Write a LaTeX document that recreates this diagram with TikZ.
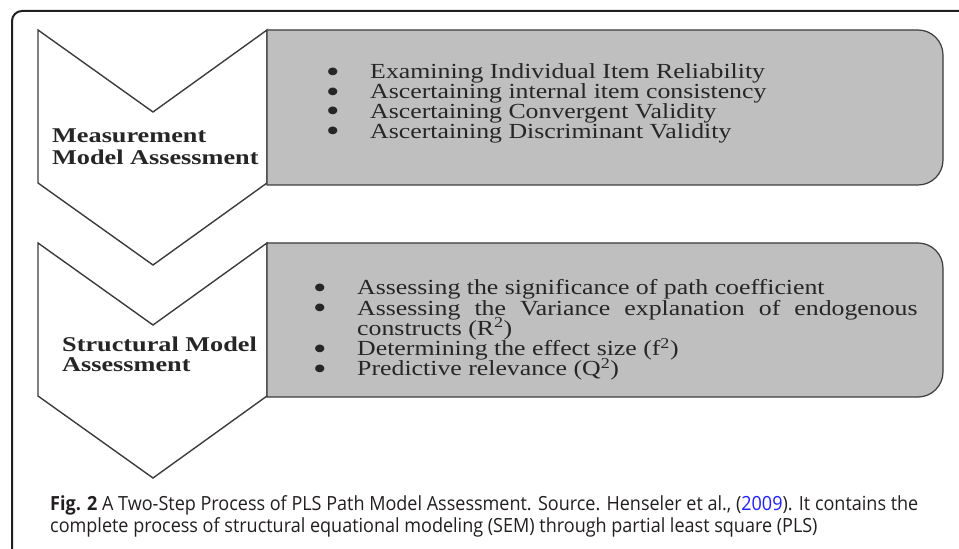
\documentclass[tikz,border=0pt]{standalone}
\usepackage{fontspec}
\setmainfont{Liberation Serif}
\newfontfamily\capfont{Open Sans}
\usepackage{graphicx}
\definecolor{boxgray}{HTML}{BFBFBF}
\definecolor{edgegray}{HTML}{3C3C3C}
\definecolor{captxt}{HTML}{231F20}
\definecolor{linkblue}{HTML}{1F1FFF}
\newcommand\bul{\makebox[36.7pt][l]{\raisebox{-3.5pt}{\fontsize{32}{32}\selectfont\textbullet}}}
\newcommand\hangsp{\hspace*{36.7pt}}
\begin{document}
\begin{tikzpicture}[x=1pt,y=1pt,
  chev/.style={draw=edgegray, line width=1.4pt, fill=white, line join=miter},
  gbox/.style={draw=edgegray, line width=1.2pt, fill=boxgray},
  framestyle/.style={draw=black!88, line width=2pt},
  txt/.style={inner sep=0pt, anchor=base west, text=black!85},
  captext/.style={inner sep=0pt, anchor=base west, text=captxt, font=\capfont\fontsize{19.5}{22}\selectfont}]
\useasboundingbox (0,0) rectangle (959,549);
\fill[white] (0,0) rectangle (959,549);
% frame
\draw[framestyle, rounded corners=10pt] (12,0) -- (12,538) -- (959,538);
% chevrons
\draw[chev] (38,519) -- (153,437) -- (267,519) -- (267,366) -- (153,284) -- (38,366) -- cycle;
\draw[chev] (38,306) -- (153,224) -- (267,306) -- (267,153) -- (153,71) -- (38,153) -- cycle;
% boxes
\draw[gbox] (267,519) -- (918,519) arc[start angle=90,end angle=0,radius=25] -- (943,389) arc[start angle=0,end angle=-90,radius=25] -- (267,364) -- cycle;
\draw[gbox] (267,306) -- (918,306) arc[start angle=90,end angle=0,radius=25] -- (943,177) arc[start angle=0,end angle=-90,radius=25] -- (267,152) -- cycle;
% chevron labels
\node[txt] (c1) at (52,406) {\scalebox{1.25}[1]{\parbox[t]{300pt}{\bfseries\fontsize{21}{22}\selectfont\lineskiplimit=-100pt Measurement\\Model Assessment}}};
\node[txt] (c2) at (62,197) {\scalebox{1.25}[1]{\parbox[t]{300pt}{\bfseries\fontsize{21}{20}\selectfont\lineskiplimit=-100pt Structural Model\\Assessment}}};
% box texts
\node[txt] (m1) at (326,470) {\scalebox{1.2}[1]{\parbox[t]{560pt}{\fontsize{21.5}{19.7}\selectfont\lineskiplimit=-100pt
\bul Examining Individual Item Reliability\\
\bul Ascertaining internal item consistency\\
\bul Ascertaining Convergent Validity\\
\bul Ascertaining Discriminant Validity}}};
\node[txt] (m2) at (313,254) {\scalebox{1.2}[1]{\parbox[t]{560pt}{\fontsize{21.5}{20.2}\selectfont\lineskiplimit=-100pt
\bul Assessing the significance of path coefficient\\
\bul\makebox[467pt][s]{Assessing the Variance explanation of endogenous}\\
\hangsp constructs (R\textsuperscript{2})\\
\bul Determining the effect size (f\textsuperscript{2})\\
\bul Predictive relevance (Q\textsuperscript{2})}}};
% caption
\node[captext] (cap1) at (50,38) {\scalebox{0.924}[1]{\textbf{Fig. 2} A Two-Step Process of PLS Path Model Assessment. Source. Henseler et al., (\textcolor{linkblue}{2009}). It contains the}};
\node[captext] (cap2) at (50,16) {\scalebox{0.924}[1]{complete process of structural equational modeling (SEM) through partial least square (PLS)}};
\end{tikzpicture}
\end{document}
